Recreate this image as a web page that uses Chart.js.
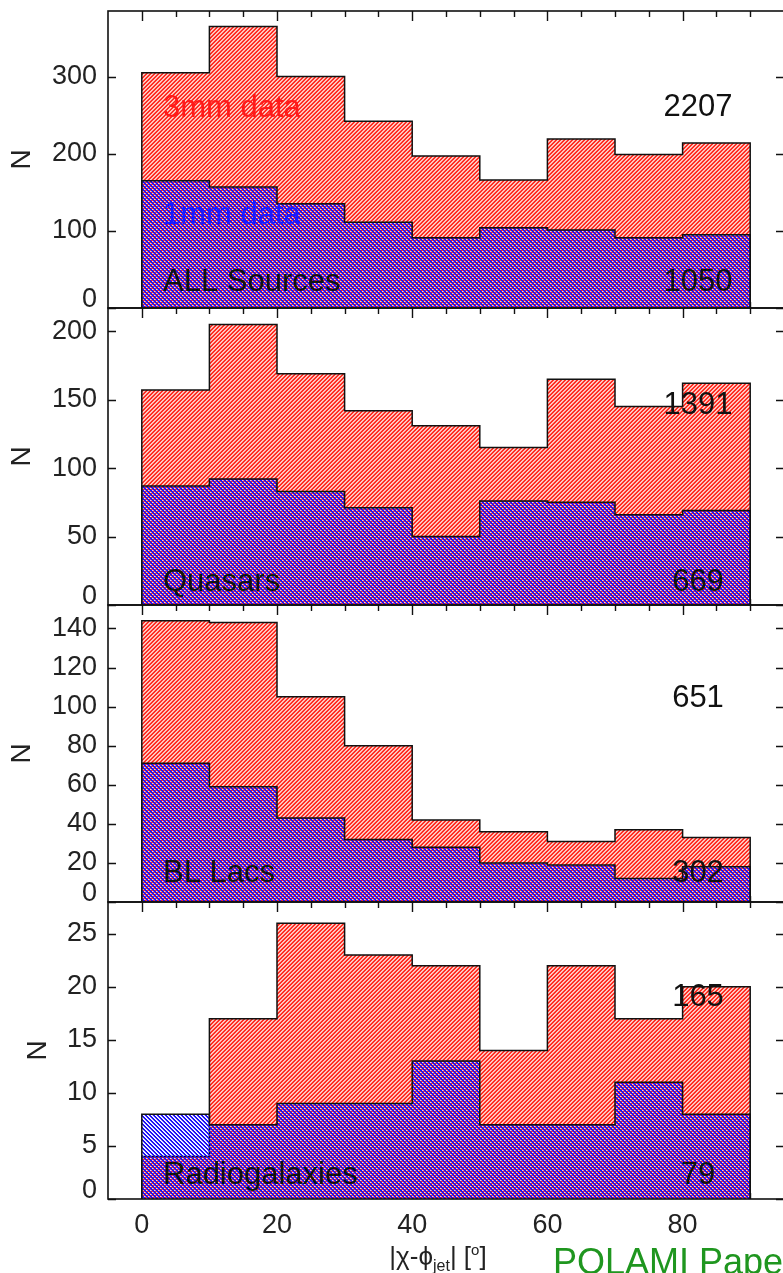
<!DOCTYPE html>
<html>
<head>
<meta charset="utf-8">
<script src="https://cdn.jsdelivr.net/npm/chart.js@4.4.0/dist/chart.umd.min.js"></script>
<style>
html,body{margin:0;padding:0;background:#fff;overflow:hidden;width:783px;height:1273px;}
canvas.panel{position:absolute;left:0;}
#polami{position:absolute;left:553px;top:1244px;font-family:"Liberation Sans",Arial,sans-serif;font-size:36px;line-height:36px;color:#1f961f;white-space:nowrap;}
</style>
</head>
<body>
<canvas id="p0" class="panel" width="790" height="321" style="top:-1px"></canvas>
<canvas id="p1" class="panel" width="790" height="321" style="top:296px"></canvas>
<canvas id="p2" class="panel" width="790" height="321" style="top:593px"></canvas>
<canvas id="p3" class="panel" width="790" height="383" style="top:890px"></canvas>
<div id="polami">POLAMI Paper</div>
<script>
// ---------------- data ----------------
const binEdges = [0, 10, 20, 30, 40, 50, 60, 70, 80, 90];
const xTickValues = [0, 20, 40, 60, 80];

const all3mm = [305, 365, 300, 242, 197, 166, 219, 199, 214];
const all1mm = [165, 157, 135, 111, 91, 104, 101, 91, 95];
const qso3mm = [157, 205, 169, 142, 131, 115, 165, 145, 162];
const qso1mm = [87, 92, 83, 71, 50, 76, 75, 66, 69];
const bll3mm = [144, 143, 105, 80, 42, 36, 31, 37, 33];
const bll1mm = [71, 59, 43, 32, 28, 20, 19, 12, 18];
const rg3mm = [4, 17, 26, 23, 22, 14, 22, 17, 20];
const rg1mm = [8, 7, 9, 9, 13, 7, 7, 11, 8];

const yTicksAll = [0, 100, 200, 300];
const yTicksQso = [0, 50, 100, 150, 200];
const yTicksBll = [0, 20, 40, 60, 80, 100, 120, 140];
const yTicksRg = [0, 5, 10, 15, 20, 25];
const yMaxes = [385, 217, 152, 28];

const panelNames = ["ALL Sources", "Quasars", "BL Lacs", "Radiogalaxies"];
const totals3mm = ["2207", "1391", "651", "165"];
const totals1mm = ["1050", "669", "302", "79"];

const panels = [
  {id: "p0", v3: all3mm, v1: all1mm, yt: yTicksAll},
  {id: "p1", v3: qso3mm, v1: qso1mm, yt: yTicksQso},
  {id: "p2", v3: bll3mm, v1: bll1mm, yt: yTicksBll},
  {id: "p3", v3: rg3mm, v1: rg1mm, yt: yTicksRg}
];

// ---------------- helpers ----------------
const FONT = '"Liberation Sans", Arial, Helvetica, sans-serif';

function stepPoints(values) {
  const last = binEdges.length - 1;
  const pts = [{x: binEdges[0], y: 0}];
  values.forEach((v, i) => pts.push({x: binEdges[i], y: v}));
  pts.push({x: binEdges[last], y: values[values.length - 1]});
  pts.push({x: binEdges[last], y: 0});
  return pts;
}

function makeTile(cols, dir) {
  const c = document.createElement('canvas');
  c.width = 4; c.height = 4;
  const g = c.getContext('2d');
  const im = g.createImageData(4, 4);
  for (let y = 0; y < 4; y++) {
    for (let x = 0; x < 4; x++) {
      const k = dir === '/' ? (x + y) % 4 : (x - y + 4) % 4;
      const col = cols[k];
      const o = (y * 4 + x) * 4;
      if (col) {
        im.data[o] = col[0]; im.data[o + 1] = col[1]; im.data[o + 2] = col[2]; im.data[o + 3] = col[3];
      }
    }
  }
  g.putImageData(im, 0, 0);
  return c;
}
const redTile = makeTile([[255, 35, 25, 255], [255, 60, 50, 255], [255, 210, 205, 255], [255, 175, 165, 255]], '/');
const blueTile = makeTile([[25, 15, 245, 255], [30, 20, 250, 255], null, [40, 30, 250, 55]], '\\');

// inward ticks + frame
const frameTicks = {
  id: 'frameTicks',
  beforeDatasetsDraw(chart, args, opts) {
    const {ctx, chartArea: a} = chart;
    const xs = chart.scales.x, ys = chart.scales.y;
    ctx.save();
    ctx.strokeStyle = '#111';
    ctx.lineWidth = 1.4;
    ctx.beginPath();
    for (let v = opts.xFrom; v <= opts.xTo; v += opts.xMinorStep) {
      const px = Math.round(xs.getPixelForValue(v)) + 0.5;
      const len = (v % opts.xMajorStep === 0) ? opts.majorLen : opts.minorLen;
      ctx.moveTo(px, a.top); ctx.lineTo(px, a.top + len);
      ctx.moveTo(px, a.bottom); ctx.lineTo(px, a.bottom - len);
    }
    ys.ticks.forEach(t => {
      const py = Math.round(ys.getPixelForValue(t.value)) + 0.5;
      ctx.moveTo(a.left, py); ctx.lineTo(a.left + opts.yLen, py);
      ctx.moveTo(a.right, py); ctx.lineTo(a.right - opts.yLen, py);
    });
    ctx.stroke();
    ctx.restore();
  },
  afterDraw(chart) {
    const {ctx, chartArea: a} = chart;
    ctx.save();
    ctx.strokeStyle = '#111';
    ctx.lineWidth = 1.6;
    ctx.strokeRect(a.left, a.top, a.right - a.left, a.bottom - a.top);
    ctx.restore();
  }
};

const panelText = {
  id: 'panelText',
  afterDatasetsDraw(chart, args, opts) {
    const {ctx, chartArea: a} = chart;
    ctx.save();
    ctx.font = opts.font;
    ctx.textBaseline = 'middle';
    (opts.items || []).forEach(it => {
      ctx.fillStyle = it.color;
      ctx.textAlign = it.align;
      const yy = it.fromTop != null ? a.top + it.fromTop : a.bottom - it.fromBottom;
      ctx.fillText(it.text, a.left + it.dx, yy);
    });
    ctx.restore();
  }
};

const xTitle = {
  id: 'xTitle',
  afterDraw(chart, args, opts) {
    if (!opts.parts) return;
    const {ctx, chartArea: a} = chart;
    ctx.save();
    ctx.fillStyle = '#222';
    ctx.textBaseline = 'alphabetic';
    ctx.textAlign = 'left';
    let total = 0;
    opts.parts.forEach(p => { ctx.font = p.s + 'px ' + FONT; total += ctx.measureText(p.t).width; });
    let x = a.left + opts.cx - total / 2;
    const y = a.bottom + opts.dy;
    opts.parts.forEach(p => {
      ctx.font = p.s + 'px ' + FONT;
      ctx.fillText(p.t, x, y + p.off);
      x += ctx.measureText(p.t).width;
    });
    ctx.restore();
  }
};

// text positions per panel (pixel offsets inside the plot area)
const textLayout = [
  {top: 96, bottom: 26},
  {top: 97, bottom: 23},
  {top: 93, bottom: 29},
  {top: 95, bottom: 24}
];

function zeroPad(s) { s.paddingTop = 0; s.paddingBottom = 0; s.paddingLeft = 0; s.paddingRight = 0; }

panels.forEach((p, i) => {
  const canvas = document.getElementById(p.id);
  const ctx = canvas.getContext('2d');
  const redPat = ctx.createPattern(redTile, 'repeat');
  const bluePat = ctx.createPattern(blueTile, 'repeat');
  const isLast = i === panels.length - 1;
  const lay = textLayout[i];

  const items = [
    {text: panelNames[i], dx: 55, fromBottom: lay.bottom, color: '#111', align: 'left'},
    {text: totals3mm[i], dx: 590, fromTop: lay.top, color: '#111', align: 'center'},
    {text: totals1mm[i], dx: 590, fromBottom: lay.bottom, color: '#111', align: 'center'}
  ];
  if (i === 0) {
    items.push({text: '3mm data', dx: 55, fromTop: 97, color: '#ff1a1a', align: 'left'});
    items.push({text: '1mm data', dx: 55, fromTop: 204, color: '#1a1aff', align: 'left'});
  }

  new Chart(ctx, {
    type: 'line',
    data: {
      datasets: [
        {
          label: '1mm data', data: stepPoints(p.v1), stepped: 'before', fill: 'origin',
          backgroundColor: bluePat, borderColor: '#111', borderWidth: 1.5,
          pointRadius: 0, pointHoverRadius: 0, order: 0
        },
        {
          label: '3mm data', data: stepPoints(p.v3), stepped: 'before', fill: 'origin',
          backgroundColor: redPat, borderColor: '#111', borderWidth: 1.5,
          pointRadius: 0, pointHoverRadius: 0, order: 1
        }
      ]
    },
    options: {
      responsive: false,
      animation: false,
      devicePixelRatio: 1,
      layout: {padding: {left: 0, right: 6, top: 12, bottom: isLast ? 0 : 12}},
      events: [],
      scales: {
        x: {
          type: 'linear', min: -5, max: 95,
          display: isLast,
          grid: {display: false, drawTicks: false},
          border: {display: false},
          afterBuildTicks: s => { s.ticks = xTickValues.map(v => ({value: v})); },
          afterFit: s => { if (isLast) s.height = 74; zeroPad(s); },
          ticks: {
            padding: 10, color: '#222', maxRotation: 0, autoSkip: false,
            font: {family: FONT, size: 27}
          },
          title: {display: false}
        },
        y: {
          type: 'linear', min: 0, max: yMaxes[i],
          grid: {display: false, drawTicks: false},
          border: {display: false},
          afterBuildTicks: s => { s.ticks = p.yt.map(v => ({value: v})); },
          afterFit: s => { s.width = 108; zeroPad(s); },
          ticks: {
            padding: 11, color: '#222', autoSkip: false,
            font: c => ({family: FONT, size: 27, lineHeight: (c.tick && c.tick.value === 0) ? '16px' : 1.2}),
            callback: v => v === 0 ? ['0', ''] : String(v)
          },
          title: {
            display: true, text: 'N', color: '#222',
            font: {family: FONT, size: 28},
            padding: {top: isLast ? 21 : 5, bottom: 0}
          }
        }
      },
      plugins: {
        legend: {display: false},
        tooltip: {enabled: false},
        filler: {drawTime: 'beforeDatasetDraw'},
        frameTicks: {xFrom: 0, xTo: 90, xMinorStep: 5, xMajorStep: 20, majorLen: 10, minorLen: 6, yLen: 8},
        panelText: {font: '31px ' + FONT, items: items},
        xTitle: isLast ? {
          cx: 330, dy: 66,
          parts: [
            {t: '|\u03C7-\u03D5', s: 26, off: 0},
            {t: 'jet', s: 16, off: 6},
            {t: '| [', s: 26, off: 0},
            {t: 'o', s: 15, off: -10},
            {t: ']', s: 26, off: 0}
          ]
        } : {}
      }
    },
    plugins: [frameTicks, panelText, xTitle]
  });
});
</script>
</body>
</html>
